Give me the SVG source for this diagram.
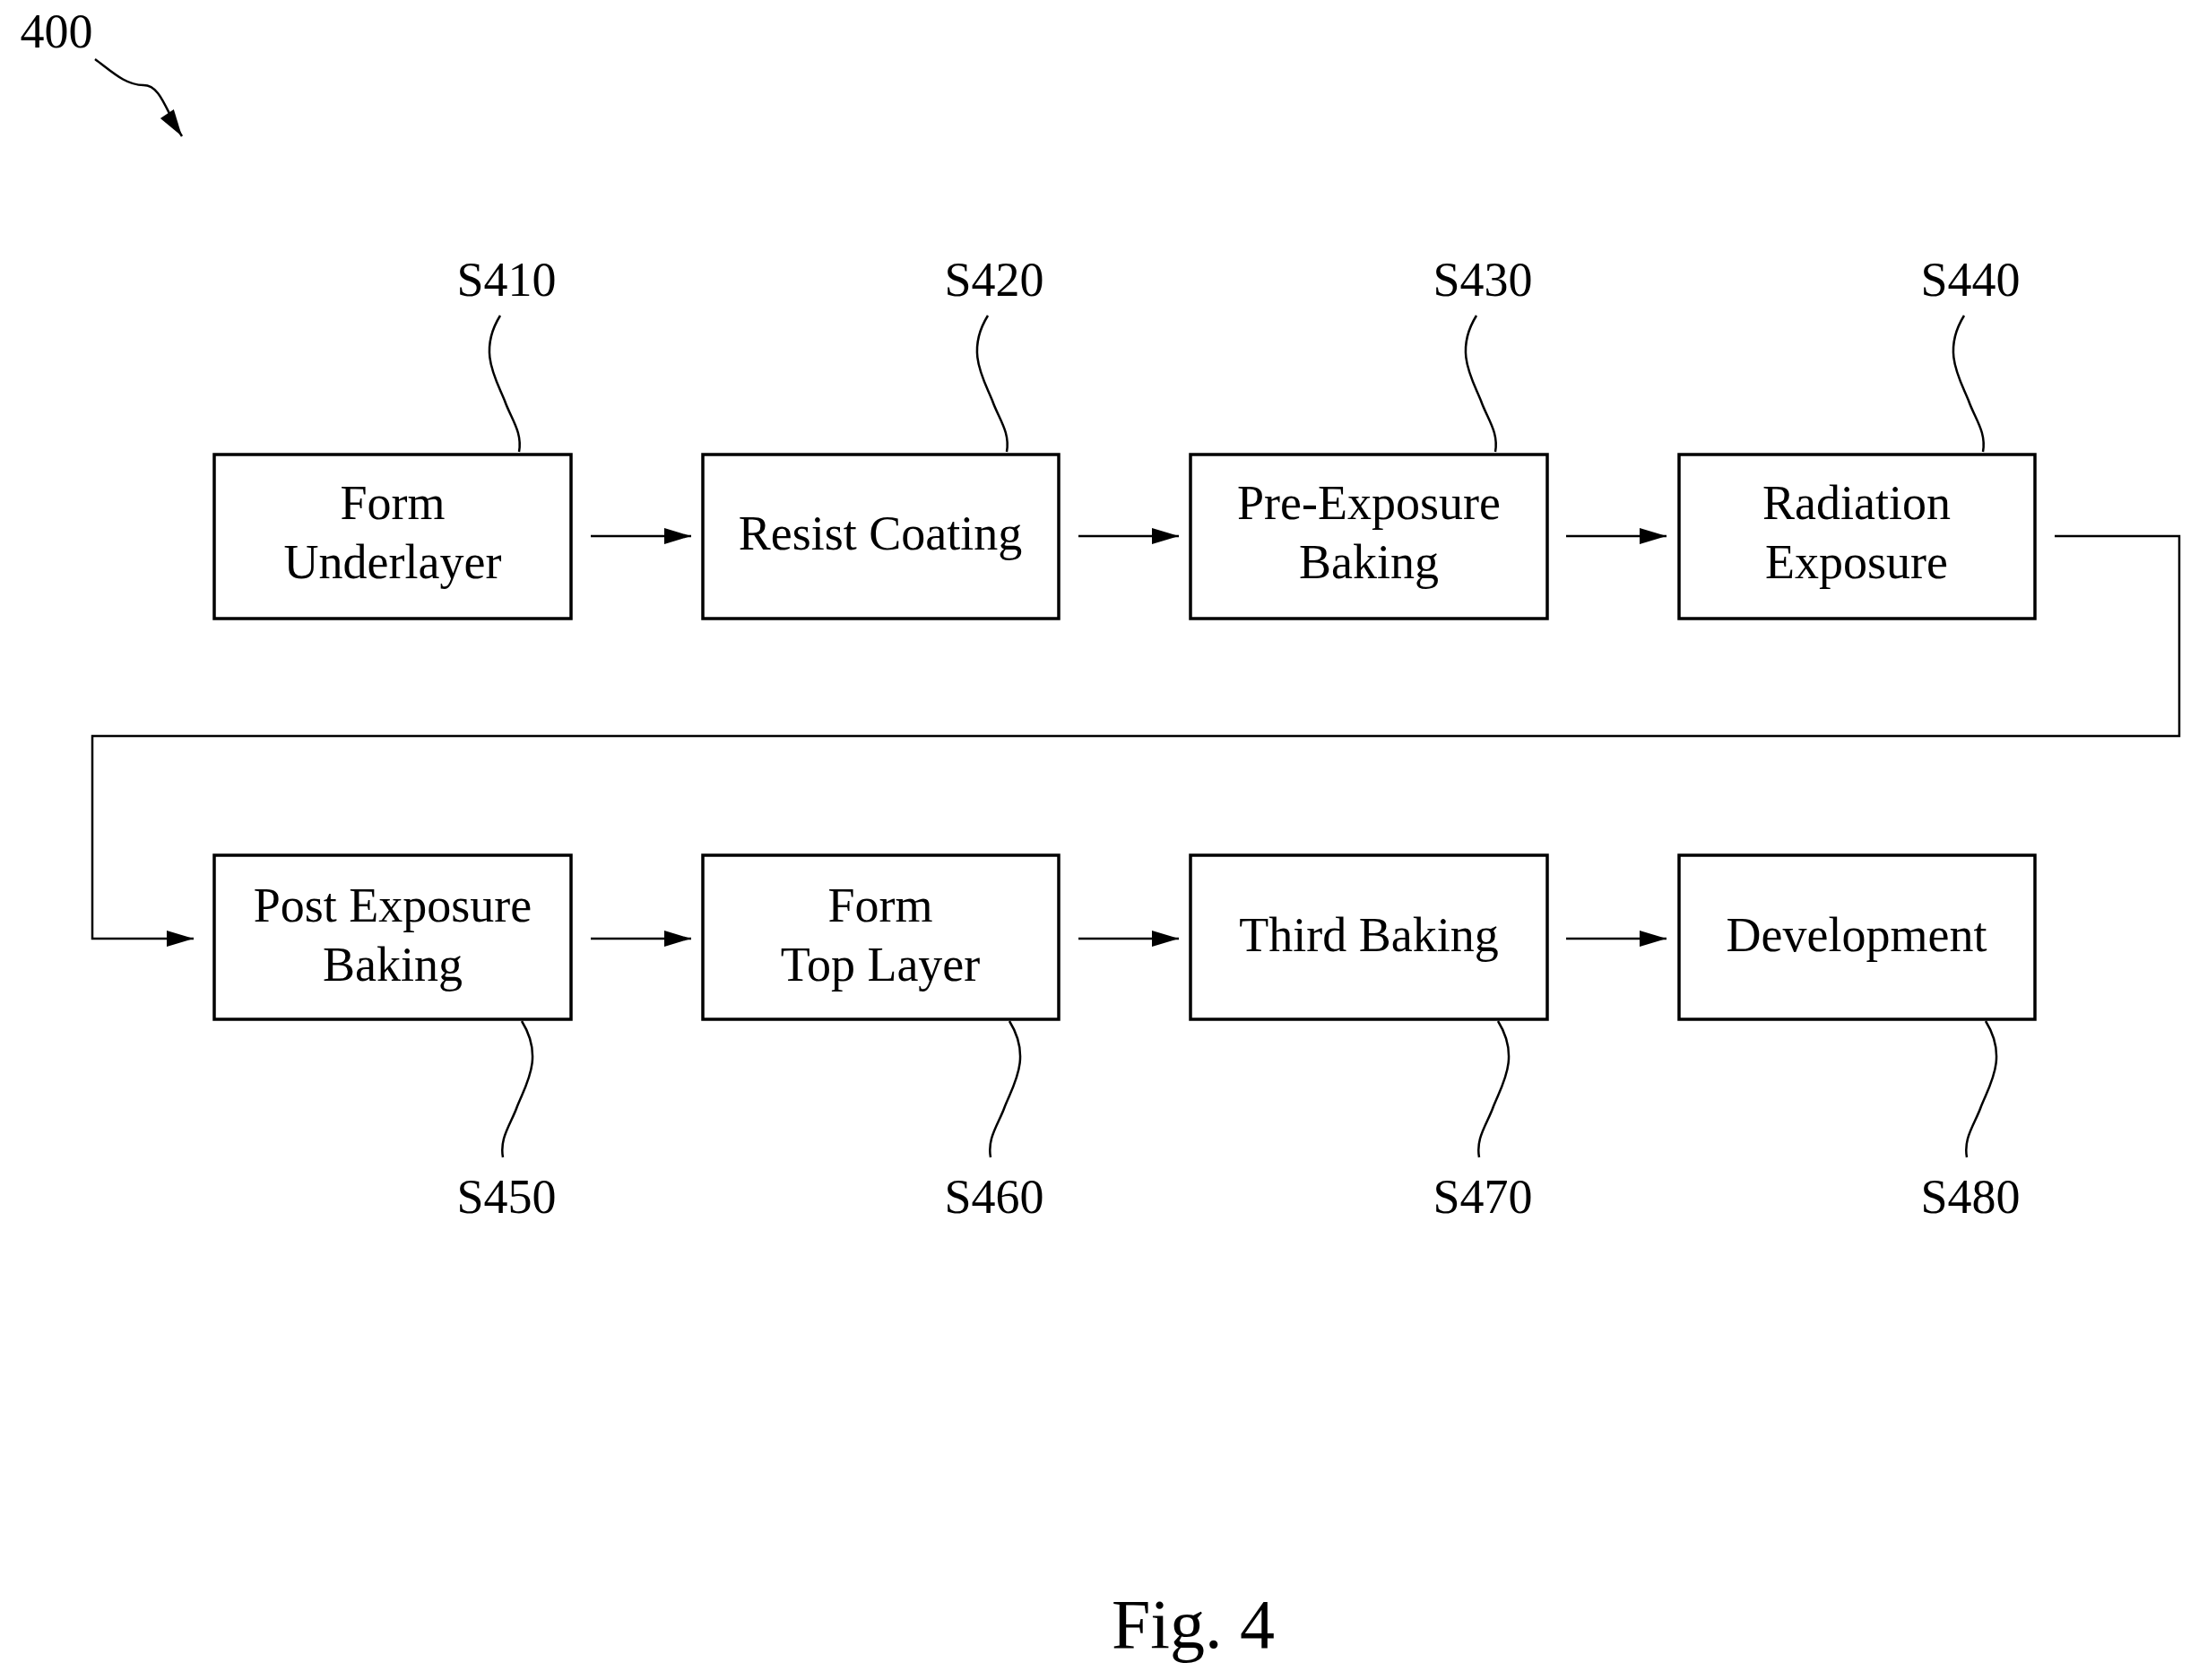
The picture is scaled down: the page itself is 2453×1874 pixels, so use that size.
<svg xmlns="http://www.w3.org/2000/svg" width="2453" height="1874" viewBox="0 0 2453 1874">
<style>
.b{fill:#fff;stroke:#000;stroke-width:3.5}
.l{fill:none;stroke:#000;stroke-width:2.5}
text{font-family:"Liberation Serif",serif;fill:#000;text-anchor:middle}
.t{font-size:54px}
.s{font-size:54px}
</style>
<defs>
<marker id="a" markerWidth="12" markerHeight="8" refX="12" refY="4" orient="auto" markerUnits="userSpaceOnUse" viewBox="0 0 12 8"><path d="M0,0L12,4L0,8z"/></marker>
<marker id="m" viewBox="0 0 10 6" refX="10" refY="3" markerWidth="50" markerHeight="18" markerUnits="userSpaceOnUse" orient="auto"><path d="M0,0L10,3L0,6z"/></marker>
<path id="sq" d="M0,0 C-25,40 -5,70 5,95 C12,115 25,130 21,152" class="l"/>
<path id="sqb" d="M0,0 C25,40 5,70 -5,95 C-12,115 -25,130 -21,152" class="l"/>
</defs>
<text x="63" y="53" class="s">400</text>
<path d="M106,66 C125,80 140,95 160,95 C180,95 185,125 203,152" class="l" marker-end="url(#m)"/>
<g id="connectors">
<path d="M659,598H771" class="l" marker-end="url(#m)"/>
<path d="M1203,598H1315" class="l" marker-end="url(#m)"/>
<path d="M1747,598H1859" class="l" marker-end="url(#m)"/>
<path d="M2292,598H2431V821H103V1047H216" class="l" marker-end="url(#m)"/>
<path d="M659,1047H771" class="l" marker-end="url(#m)"/>
<path d="M1203,1047H1315" class="l" marker-end="url(#m)"/>
<path d="M1747,1047H1859" class="l" marker-end="url(#m)"/>
</g>
<g id="n410"><rect x="239" y="507" width="398" height="183" class="b"/><text x="438" y="579" class="t">Form</text><text x="438" y="645" class="t">Underlayer</text><use href="#sq" x="558" y="352"/><text x="565" y="330" class="s">S410</text></g>
<g id="n420"><rect x="784" y="507" width="397" height="183" class="b"/><text x="982" y="613" class="t">Resist Coating</text><use href="#sq" x="1102" y="352"/><text x="1109" y="330" class="s">S420</text></g>
<g id="n430"><rect x="1328" y="507" width="398" height="183" class="b"/><text x="1527" y="579" class="t">Pre-Exposure</text><text x="1527" y="645" class="t">Baking</text><use href="#sq" x="1647" y="352"/><text x="1654" y="330" class="s">S430</text></g>
<g id="n440"><rect x="1873" y="507" width="397" height="183" class="b"/><text x="2071" y="579" class="t">Radiation</text><text x="2071" y="645" class="t">Exposure</text><use href="#sq" x="2191" y="352"/><text x="2198" y="330" class="s">S440</text></g>
<g id="n450"><rect x="239" y="954" width="398" height="183" class="b"/><text x="438" y="1028" class="t">Post Exposure</text><text x="438" y="1094" class="t">Baking</text><use href="#sqb" x="582" y="1139"/><text x="565" y="1353" class="s">S450</text></g>
<g id="n460"><rect x="784" y="954" width="397" height="183" class="b"/><text x="982" y="1028" class="t">Form</text><text x="982" y="1094" class="t">Top Layer</text><use href="#sqb" x="1126" y="1139"/><text x="1109" y="1353" class="s">S460</text></g>
<g id="n470"><rect x="1328" y="954" width="398" height="183" class="b"/><text x="1527" y="1061" class="t">Third Baking</text><use href="#sqb" x="1671" y="1139"/><text x="1654" y="1353" class="s">S470</text></g>
<g id="n480"><rect x="1873" y="954" width="397" height="183" class="b"/><text x="2071" y="1061" class="t">Development</text><use href="#sqb" x="2215" y="1139"/><text x="2198" y="1353" class="s">S480</text></g>
<text x="1331" y="1838" style="font-size:78px">Fig. 4</text>
</svg>
